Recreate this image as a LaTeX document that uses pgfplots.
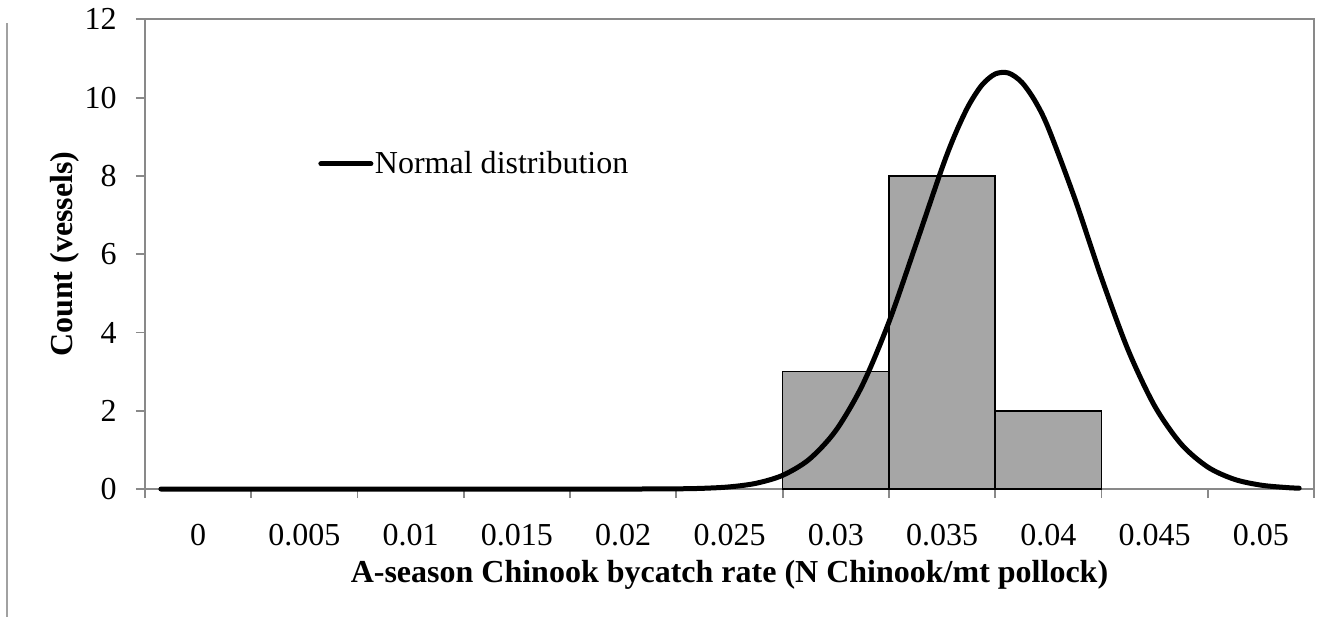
\documentclass[border=0pt]{standalone}
\usepackage{pgfplots}
\pgfplotsset{compat=1.18}
\usepackage{fontspec}
\setmainfont{Liberation Serif}
\definecolor{axgray}{HTML}{898989}
\definecolor{barfill}{HTML}{A6A6A6}
\begin{document}
\begin{tikzpicture}
\begin{axis}[
  scale only axis,
  width=584.5pt, height=234.85pt,
  xmin=-0.0025, xmax=0.0525,
  ymin=0, ymax=12,
  clip=false,
  scaled x ticks=false,
  xtick pos=bottom, ytick pos=left,
  axis line style={axgray, line width=0.9pt},
  every tick/.style={axgray, line width=0.9pt},
  tick align=outside,
  xtick={0,0.005,0.01,0.015,0.02,0.025,0.03,0.035,0.04,0.045,0.05},
  xticklabels={0,0.005,0.01,0.015,0.02,0.025,0.03,0.035,0.04,0.045,0.05},
  major x tick style={draw=none},
  minor xtick={-0.0025,0.0025,0.0075,0.0125,0.0175,0.0225,0.0275,0.0325,0.0375,0.0425,0.0475,0.0525},
  minor tick length=4.5pt,
  ytick={0,2,4,6,8,10,12},
  major tick length=4.5pt,
  /pgf/number format/assume math mode=true,
  xticklabel style={font=\fontsize{16}{19}\selectfont, anchor=north, inner sep=0pt, yshift=-13pt},
  yticklabel style={font=\fontsize{16}{19}\selectfont, anchor=east, inner sep=0pt, xshift=-9.5pt},
  xlabel={A-season Chinook bycatch rate (N Chinook/mt pollock)},
  ylabel={Count (vessels)},
  every axis x label/.style={at={(axis description cs:0.5,0)}, anchor=base, yshift=-46.5pt, font=\fontsize{16}{19}\selectfont\bfseries},
  every axis y label/.style={at={(axis description cs:-0.0624,0.5)}, rotate=90, anchor=base, font=\fontsize{16}{19}\selectfont\bfseries},
  legend style={at={(rel axis cs:0.148,0.692)}, anchor=west, draw=none, fill=none, inner sep=0pt, font=\fontsize{16}{19}\selectfont, nodes={inner sep=0.8pt}},
  legend image code/.code={\draw[line width=2.5pt] (0pt,0pt) -- (25pt,0pt);},
]
% bounding box and left decorative line
\path (rel axis cs:-0.1240,-0.2725) rectangle (rel axis cs:1.0222,1.0411);
\draw[color=axgray!80, line width=1pt] (rel axis cs:-0.1176,0.992) -- (rel axis cs:-0.1176,-0.2725);

\addplot[ybar interval, fill=barfill, draw=black, line width=0.75pt, forget plot]
  coordinates {(0.0275,3) (0.0325,8) (0.0375,2) (0.0425,2)};

\addplot[black, line width=2.5pt, smooth, line cap=round] coordinates {
(-0.00175,0) (0.0,0) (0.005,0) (0.01,0) (0.015,0) (0.02,0.0004)
(0.0225,0.0059) (0.02375,0.019) (0.025,0.0556) (0.02625,0.147)
(0.0275,0.351) (0.02875,0.760) (0.03,1.493) (0.03125,2.652)
(0.0325,4.266) (0.03375,6.215) (0.035,8.202) (0.035625,9.076)
(0.03625,9.799) (0.036875,10.32) (0.0375,10.604) (0.038125,10.628)
(0.03875,10.391) (0.039375,9.912) (0.04,9.222)
(0.04125,7.412) (0.0425,5.395) (0.04375,3.556) (0.045,2.123)
(0.04625,1.148) (0.0475,0.562) (0.04875,0.249) (0.05,0.100)
(0.05125,0.0364) (0.0518,0.0226)
};
\addlegendentry{Normal distribution}
\end{axis}
\end{tikzpicture}
\end{document}
